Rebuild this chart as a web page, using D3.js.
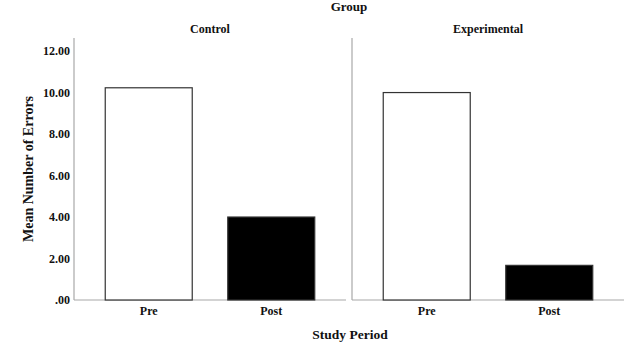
<!DOCTYPE html>
<html>
<head>
<meta charset="utf-8">
<script src="https://cdn.jsdelivr.net/npm/d3@7"></script>
<style>
  html, body { margin: 0; padding: 0; background: #fff; }
  svg { display: block; }
  svg text { font-family: "Liberation Serif", "Times New Roman", serif !important; font-weight: bold; fill: #111; }
</style>
</head>
<body>
<svg id="chart" width="636" height="350"></svg>
<script>
// Panels (Group), categories (Study Period) and mean values
const groups = ["Control", "Experimental"];
const periods = ["Pre", "Post"];
const controlMeans = [10.23, 4.0];
const experimentalMeans = [10.0, 1.67];
const yTicks = [0, 2, 4, 6, 8, 10, 12];
const barFills = { Pre: "#ffffff", Post: "#000000" };

const seriesByGroup = { Control: controlMeans, Experimental: experimentalMeans };

const serif = "'Liberation Serif', 'Times New Roman', serif";
const svg = d3.select("#chart");
const plotTop = 38, plotBottom = 300;
const panelWidth = 272;
const panelX = d3.scaleOrdinal().domain(groups).range([74, 352]);

const y = d3.scaleLinear().domain([0, 12.63]).range([plotBottom, plotTop]);
const x = d3.scaleBand().domain(periods).range([0, panelWidth])
  .paddingInner(0.29).paddingOuter(0.255);

const fmt = v => v === 0 ? ".00" : d3.format(".2f")(v);

// Y axis labels (shared, on the left panel)
const yAxis = d3.axisLeft(y).tickValues(yTicks).tickFormat(fmt).tickSize(0).tickPadding(4);
const ya = svg.append("g")
  .attr("transform", `translate(${panelX("Control")},0)`)
  .call(yAxis)
  .attr("font-family", serif).attr("font-size", 12);
ya.select(".domain").remove();
ya.selectAll("text").style("font-family", serif).style("font-size", "12px");

groups.forEach(g => {
  const gx = panelX(g);
  const panel = svg.append("g").attr("transform", `translate(${gx},0)`);

  // vertical axis line
  panel.append("line")
    .attr("x1", 0).attr("x2", 0).attr("y1", plotTop).attr("y2", plotBottom)
    .attr("stroke", "#a8a8a8").attr("stroke-width", 1.2);

  // baseline
  panel.append("line")
    .attr("x1", 0).attr("x2", panelWidth).attr("y1", plotBottom).attr("y2", plotBottom)
    .attr("stroke", "#a8a8a8").attr("stroke-width", 1.2);

  // bars
  panel.selectAll("rect.bar")
    .data(periods.map((p, i) => ({ period: p, value: seriesByGroup[g][i] })))
    .join("rect")
    .attr("class", "bar")
    .attr("x", d => x(d.period))
    .attr("width", x.bandwidth())
    .attr("y", d => y(d.value))
    .attr("height", d => y(0) - y(d.value))
    .attr("fill", d => barFills[d.period])
    .attr("stroke", "#333")
    .attr("stroke-width", 1.2);

  // category labels
  const xAxis = d3.axisBottom(x).tickSize(0).tickPadding(6);
  const xa = panel.append("g")
    .attr("transform", `translate(0,${plotBottom})`)
    .call(xAxis)
    .attr("font-family", serif).attr("font-size", 12);
  xa.select(".domain").remove();
  xa.selectAll("text").style("font-family", serif).style("font-size", "12px");

  // panel title
  panel.append("text")
    .attr("x", panelWidth / 2).attr("y", 33)
    .attr("text-anchor", "middle")
    .style("font-size", "12px")
    .text(g);
});

// Group header
svg.append("text")
  .attr("x", 349).attr("y", 11)
  .attr("text-anchor", "middle")
  .style("font-size", "13px")
  .text("Group");

// X axis title
svg.append("text")
  .attr("x", 350).attr("y", 339)
  .attr("text-anchor", "middle")
  .style("font-size", "13.5px")
  .text("Study Period");

// Y axis title
svg.append("text")
  .attr("transform", "translate(33,169) rotate(-90)")
  .attr("text-anchor", "middle")
  .style("font-size", "14px")
  .text("Mean Number of Errors");
</script>
</body>
</html>
